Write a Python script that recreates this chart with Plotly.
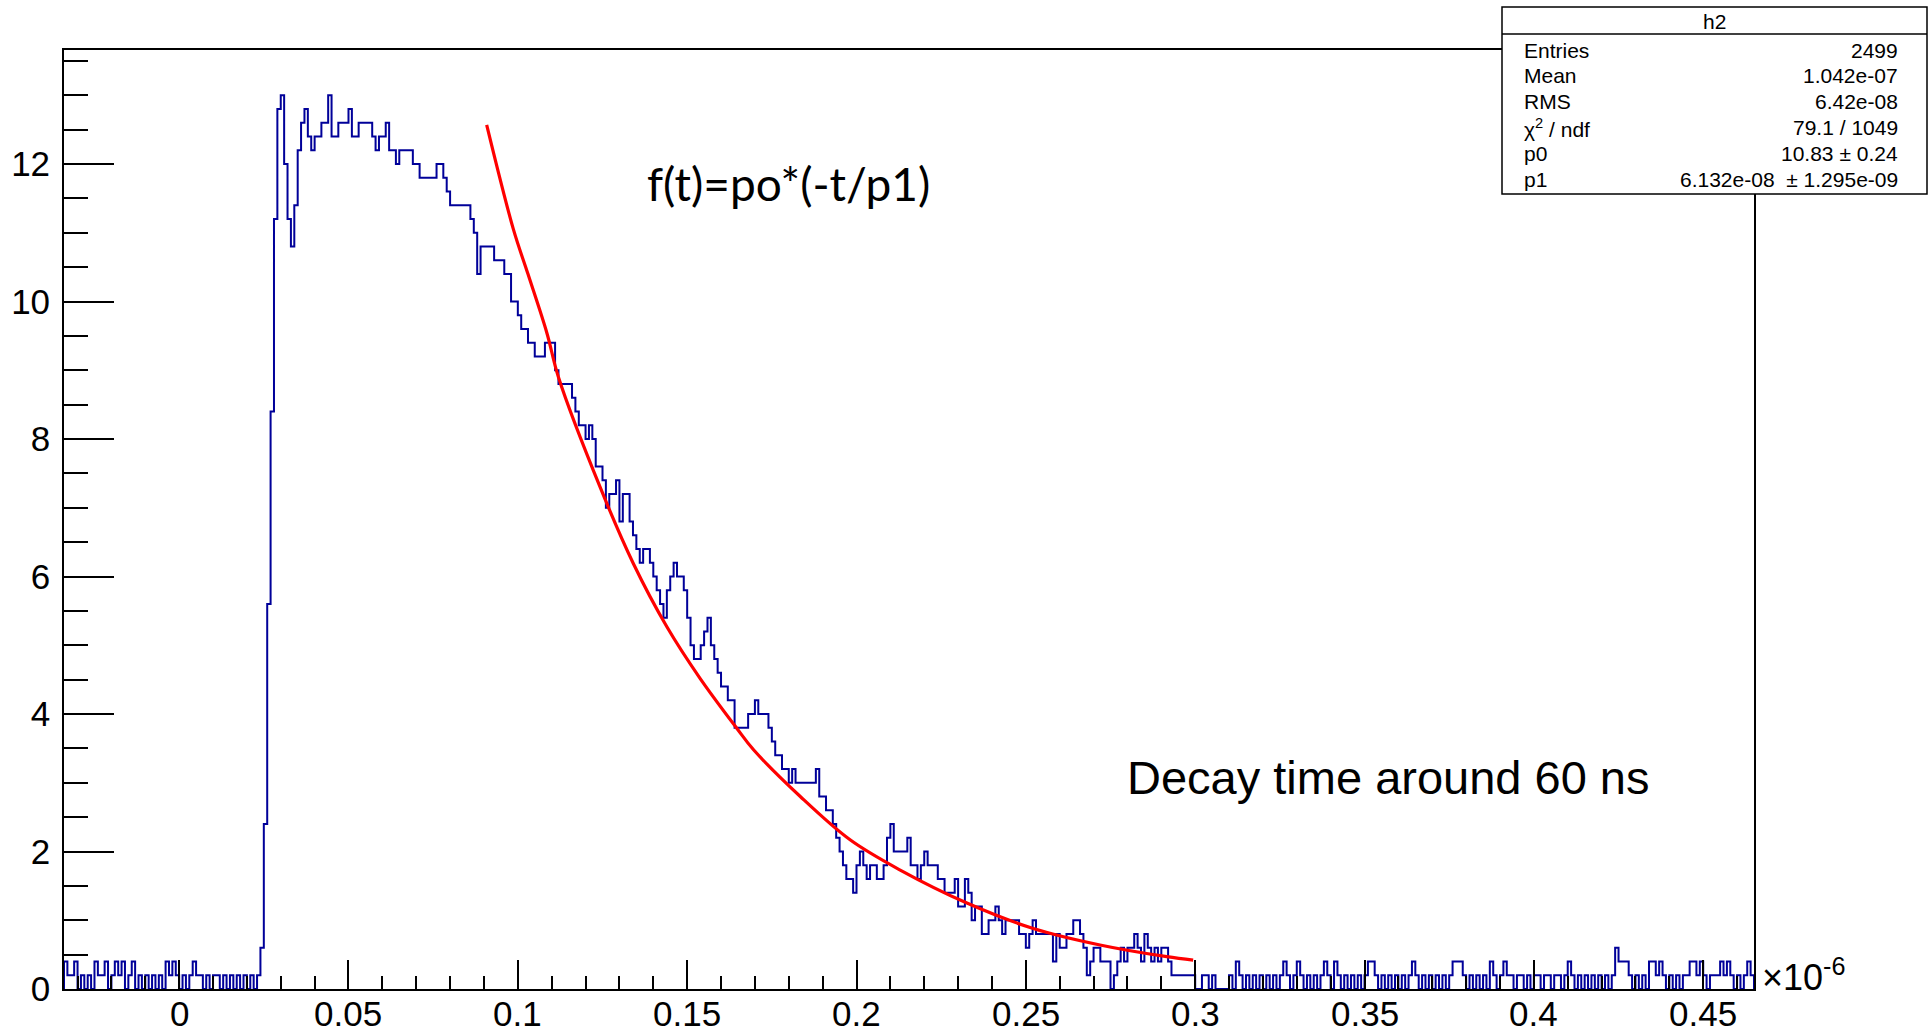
import plotly.graph_objects as go

# ---------------- data (x in units of 1e-6 s) ----------------
x_start = -0.034
bin_width = 0.001
x_end = 0.465
level_step = 0.2  # histogram content quantum

# bin contents in units of level_step
counts_pretrigger = [2, 1, 1, 2, 0, 1, 0, 1, 0, 2,
                     1, 1, 2, 0, 1, 2, 1, 2, 0, 1,
                     2, 0, 1, 0, 1, 0, 1, 0, 1, 0,
                     2, 1, 2, 1, 0, 1, 0, 1, 2, 1,
                     1, 0, 1, 0, 1, 1, 0, 1, 0, 1,
                     0, 1, 0, 1, 0, 1, 0, 1]
counts_pulse = [3, 12, 28, 42, 56, 64, 65, 60, 56, 54,
                57, 61, 63, 64, 62, 61, 62, 62, 63, 63,
                65, 62, 62, 63, 63, 63, 64, 62, 62, 63,
                63, 63, 63, 62, 61, 62, 62, 63, 61, 61,
                60, 61, 61, 61, 61, 60, 60, 59, 59, 59,
                59, 59, 60, 60, 59, 58, 57, 57, 57, 57,
                57, 57, 56, 55, 52, 54, 54, 54, 54, 53,
                53, 53, 52, 52, 50, 50, 49, 48, 48, 47,
                47, 46, 46, 46, 47, 47, 47, 45, 44, 44,
                44, 44, 43, 42, 41, 41, 40, 41, 40, 38,
                38, 37, 35, 36, 36, 37, 34, 36, 36, 34,
                33, 32, 31, 32, 32, 31, 30, 29, 28, 27,
                29, 30, 31, 30, 30, 29, 27, 25, 24, 24,
                25, 26, 27, 25, 24, 23, 22, 22, 21, 21,
                19, 19, 19, 19, 20, 20, 21, 20, 20, 20,
                19, 18, 17, 17, 16, 16, 15, 16, 15, 15,
                15, 15, 15, 15, 16, 14, 14, 13, 13, 12,
                11, 10, 9, 8, 8, 7, 9, 10, 9, 8,
                9, 9, 8, 8, 9, 11, 12, 10, 10, 10,
                10, 11, 9, 9, 8, 9, 10, 9, 9, 9,
                8, 8, 7, 7, 7, 8, 6, 6, 8, 7,
                5, 6, 6, 4, 4, 5, 5, 6, 5, 4,
                5, 5, 5, 5, 4, 4, 3, 4, 5, 4,
                4, 4, 4, 4, 2, 4, 3, 3, 4, 4,
                5, 5, 4, 3, 1, 2, 3, 3, 2, 2,
                2, 0, 1, 2, 3, 2, 3, 3, 4, 3,
                2, 4, 3, 2, 3, 2, 3, 3, 2, 1,
                1, 1, 1, 1, 1, 1]
counts_tail = [0, 0, 1, 1, 0, 1, 0, 0, 0, 0, 1, 0,
               2, 1, 0, 1, 0, 1, 0, 1, 0, 1, 0, 1, 0, 1,
               2, 1, 0, 1, 2, 1, 0, 1, 0, 1, 0, 1, 2, 1,
               0, 2, 1, 0, 1, 0, 1, 0, 1, 0, 1, 2, 2, 1,
               0, 1, 0, 1, 0, 1, 0, 1, 0, 1, 2, 1, 0, 1,
               0, 1, 0, 1, 0, 1, 0, 1, 2, 2, 2, 1, 0, 1,
               0, 1, 0, 1, 0, 2, 1, 0, 1, 2, 1, 1, 0, 1,
               1, 0, 1, 0, 1, 1, 0, 1, 1, 0, 1, 1, 0, 1,
               2, 1, 0, 1, 0, 1, 0, 1, 0, 1, 0, 1, 0, 1,
               3, 2, 2, 2, 1, 0, 1, 0, 1, 0, 2, 2, 1, 2,
               1, 0, 1, 0, 1, 0, 1, 1, 2, 2, 1, 2, 1, 0,
               1, 1, 1, 2, 1, 2, 1, 0, 1, 0, 1, 2, 1]

# fit curve, points
fit_x = [0.0908, 0.0987, 0.1030, 0.1086, 0.1120, 0.1243, 0.1341, 0.1440,
         0.1538, 0.1647, 0.1696, 0.1834, 0.1981, 0.2129, 0.2326, 0.2522,
         0.2719, 0.2916, 0.2994]
fit_y = [12.57, 11.05, 10.40, 9.54, 8.90, 7.30, 6.19, 5.27,
         4.52, 3.79, 3.48, 2.80, 2.17, 1.73, 1.25, 0.88,
         0.64, 0.47, 0.42]

x_tick_vals = [0, 0.05, 0.1, 0.15, 0.2, 0.25, 0.3, 0.35, 0.4, 0.45]
x_tick_text = ["0", "0.05", "0.1", "0.15", "0.2", "0.25", "0.3", "0.35", "0.4", "0.45"]
y_tick_vals = [0, 2, 4, 6, 8, 10, 12]

stat_labels = ["Entries", "Mean", "RMS", "\u03c7<sup>2</sup> / ndf", "p0", "p1"]
stat_values = ["2499", "1.042e-07", "6.42e-08", "79.1 / 1049",
               "10.83 \u00b1 0.24", "6.132e-08  \u00b1 1.295e-09"]

# ---------------- build ----------------
levels = counts_pretrigger + counts_pulse + counts_tail
values = [c * level_step for c in levels]
edges = [x_start + i * bin_width for i in range(len(values) + 1)]

hx = [edges[0]] + edges[:-1] + [edges[-1], edges[-1]]
hy = [0] + values + [values[-1], 0]

fig = go.Figure()
fig.add_trace(go.Scatter(x=hx, y=hy, mode="lines",
                         line=dict(color="#000099", width=2, shape="hv"),
                         hoverinfo="skip", showlegend=False))
fig.add_trace(go.Scatter(x=fit_x, y=fit_y, mode="lines",
                         line=dict(color="#ff0000", width=3.2, shape="spline"),
                         hoverinfo="skip", showlegend=False))

W, H = 1929, 1033
L, R, T, B = 64, 1754, 50, 989
pw, ph = R - L, B - T

def px(x):
    return (x - L) / pw

def py(y):
    return (B - y) / ph

FONT = "Liberation Sans"

fig.update_layout(
    template="none",
    width=W, height=H, autosize=False,
    margin=dict(l=L, r=W - R, t=T, b=H - B, pad=0, autoexpand=False),
    paper_bgcolor="white", plot_bgcolor="white",
    font=dict(family=FONT, color="black"),
    xaxis=dict(range=[x_start, x_end], tickmode="array", tickvals=x_tick_vals,
               showticklabels=False, ticks="inside", ticklen=29, tickwidth=1.5,
               tickcolor="black", showgrid=False, zeroline=False, automargin=False,
               showline=True, linecolor="black", linewidth=1.8, mirror=True,
               minor=dict(ticks="inside", ticklen=13, dtick=0.01, tick0=0,
                          tickwidth=1.5, tickcolor="black", showgrid=False)),
    yaxis=dict(range=[0, 13.66], tickmode="array", tickvals=y_tick_vals,
               ticks="inside", ticklen=50, tickwidth=1.5, tickcolor="black",
               showgrid=False, zeroline=False, automargin=False,
               showline=True, linecolor="black", linewidth=1.8, mirror=True,
               tickfont=dict(size=35, family=FONT, color="black"),
               ticklabelstandoff=5,
               minor=dict(ticks="inside", ticklen=24, dtick=0.5, tick0=0,
                          tickwidth=1.5, tickcolor="black", showgrid=False)),
)

annotations = []
# x tick labels
for tv, tt in zip(x_tick_vals, x_tick_text):
    annotations.append(dict(x=tv, y=py(1014), xref="x", yref="paper", text=tt,
                            showarrow=False, xanchor="center", yanchor="middle",
                            font=dict(family=FONT, size=35, color="black")))

annotations += [
    dict(x=0.1376, y=11.72, xref="x", yref="y", text="f(t)=po*(-t/p1)",
         showarrow=False, xanchor="left", yanchor="middle",
         font=dict(family="Lato", size=46, color="black")),
    dict(x=0.2793, y=3.08, xref="x", yref="y", text="Decay time around 60 ns",
         showarrow=False, xanchor="left", yanchor="middle",
         font=dict(family=FONT, size=47, color="black")),
    dict(x=px(1760), y=py(975), xref="paper", yref="paper",
         text="\u00d710<sup>-6</sup>", showarrow=False,
         xanchor="left", yanchor="middle",
         font=dict(family=FONT, size=36, color="black")),
]

# statistics box
bx0, bx1, by0, by1, bhead = 1502, 1927, 7, 194, 34
shapes = [
    dict(type="rect", xref="paper", yref="paper",
         x0=px(bx0), x1=px(bx1), y0=py(by1), y1=py(by0),
         fillcolor="white", line=dict(color="black", width=1.5), layer="above"),
    dict(type="line", xref="paper", yref="paper",
         x0=px(bx0), x1=px(bx1), y0=py(bhead), y1=py(bhead),
         line=dict(color="black", width=1.5), layer="above"),
]
annotations.append(dict(x=px((bx0 + bx1) / 2), y=py(21), xref="paper", yref="paper",
                        text="h2", showarrow=False, xanchor="center", yanchor="middle",
                        font=dict(family=FONT, size=21, color="black")))
row_y = [50, 76, 102, 128, 154, 180]
for lab, val, ry in zip(stat_labels, stat_values, row_y):
    annotations.append(dict(x=px(1522), y=py(ry), xref="paper", yref="paper",
                            text=lab, showarrow=False, xanchor="left", yanchor="middle",
                            font=dict(family=FONT, size=21, color="black")))
    annotations.append(dict(x=px(1900), y=py(ry), xref="paper", yref="paper",
                            text=val, showarrow=False, xanchor="right", yanchor="middle",
                            font=dict(family=FONT, size=21, color="black")))

fig.update_layout(annotations=annotations, shapes=shapes)

fig.write_html("out.html")
